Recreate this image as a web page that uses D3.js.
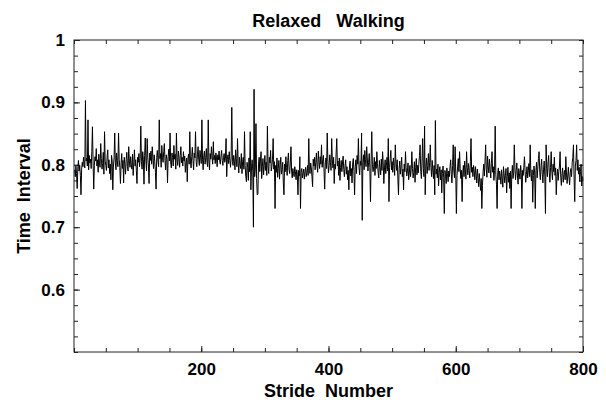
<!DOCTYPE html>
<html>
<head>
<meta charset="utf-8">
<script src="https://cdn.jsdelivr.net/npm/d3@7/dist/d3.min.js"></script>
<style>
  body { margin: 0; background: #fff; }
  svg text { font-family: 'Liberation Sans', Arial, sans-serif; font-weight: bold; fill: #000; }
  .axis path { display: none; }
  .axis line { stroke: #222; }
</style>
</head>
<body>
<svg id="chart" width="606" height="402"></svg>
<script>
// stride intervals (s), stride 1..800
var strideValues = [
  0.792, 0.781, 0.798, 0.786, 0.762, 0.795, 0.807, 0.790, 0.799, 0.783,
  0.752, 0.793, 0.804, 0.797, 0.812, 0.801, 0.795, 0.903, 0.806, 0.811,
  0.798, 0.872, 0.792, 0.815, 0.803, 0.809, 0.794, 0.821, 0.861, 0.805,
  0.761, 0.799, 0.813, 0.806, 0.826, 0.798, 0.808, 0.788, 0.817, 0.803,
  0.796, 0.834, 0.810, 0.793, 0.802, 0.820, 0.785, 0.853, 0.806, 0.799,
  0.791, 0.812, 0.824, 0.795, 0.808, 0.786, 0.801, 0.776, 0.815, 0.806,
  0.760, 0.798, 0.811, 0.851, 0.803, 0.792, 0.819, 0.807, 0.797, 0.851,
  0.809, 0.796, 0.770, 0.803, 0.818, 0.794, 0.807, 0.771, 0.812, 0.801,
  0.785, 0.808, 0.820, 0.797, 0.790, 0.829, 0.806, 0.796, 0.813, 0.800,
  0.793, 0.817, 0.783, 0.804, 0.824, 0.798, 0.808, 0.791, 0.770, 0.812,

  0.804, 0.818, 0.797, 0.810, 0.862, 0.805, 0.793, 0.821, 0.809, 0.769,
  0.815, 0.843, 0.806, 0.790, 0.842, 0.812, 0.798, 0.770, 0.819, 0.807,
  0.822, 0.801, 0.829, 0.811, 0.794, 0.816, 0.805, 0.788, 0.761, 0.812,
  0.823, 0.806, 0.797, 0.872, 0.810, 0.818, 0.796, 0.831, 0.812, 0.804,
  0.821, 0.834, 0.807, 0.792, 0.816, 0.809, 0.771, 0.813, 0.825, 0.806,
  0.851, 0.803, 0.795, 0.819, 0.812, 0.798, 0.831, 0.809, 0.817, 0.793,
  0.851, 0.808, 0.799, 0.822, 0.811, 0.796, 0.815, 0.829, 0.803, 0.812,
  0.798, 0.821, 0.806, 0.814, 0.788, 0.803, 0.811, 0.773, 0.809, 0.817,
  0.801, 0.853, 0.806, 0.795, 0.813, 0.828, 0.807, 0.792, 0.819, 0.811,
  0.853, 0.805, 0.797, 0.816, 0.829, 0.808, 0.799, 0.823, 0.812, 0.802,

  0.872, 0.809, 0.792, 0.815, 0.822, 0.801, 0.811, 0.826, 0.804, 0.797,
  0.872, 0.806, 0.792, 0.818, 0.809, 0.829, 0.813, 0.801, 0.837, 0.808,
  0.815, 0.802, 0.819, 0.811, 0.797, 0.816, 0.808, 0.822, 0.806, 0.801,
  0.814, 0.823, 0.807, 0.799, 0.812, 0.818, 0.804, 0.810, 0.842, 0.781,
  0.809, 0.816, 0.802, 0.821, 0.807, 0.796, 0.813, 0.892, 0.805, 0.799,
  0.815, 0.806, 0.792, 0.824, 0.810, 0.797, 0.842, 0.803, 0.787, 0.812,
  0.801, 0.794, 0.818, 0.786, 0.805, 0.812, 0.793, 0.853, 0.799, 0.781,
  0.773, 0.804, 0.796, 0.775, 0.811, 0.789, 0.853, 0.760, 0.797, 0.808,
  0.790, 0.700, 0.921, 0.781, 0.795, 0.866, 0.778, 0.752, 0.753, 0.801,
  0.812, 0.789, 0.806, 0.821, 0.778, 0.797, 0.810, 0.784, 0.799, 0.815,

  0.791, 0.804, 0.783, 0.862, 0.798, 0.786, 0.812, 0.803, 0.823, 0.790,
  0.797, 0.809, 0.842, 0.793, 0.805, 0.730, 0.799, 0.788, 0.811, 0.780,
  0.794, 0.807, 0.777, 0.798, 0.812, 0.785, 0.792, 0.804, 0.771, 0.752,
  0.801, 0.789, 0.813, 0.796, 0.783, 0.807, 0.819, 0.792, 0.786, 0.803,
  0.829, 0.790, 0.779, 0.794, 0.786, 0.781, 0.797, 0.789, 0.776, 0.792,
  0.785, 0.752, 0.791, 0.782, 0.813, 0.730, 0.788, 0.794, 0.779, 0.786,
  0.793, 0.777, 0.789, 0.796, 0.781, 0.788, 0.799, 0.783, 0.842, 0.791,
  0.786, 0.803, 0.795, 0.781, 0.765, 0.809, 0.798, 0.812, 0.792, 0.804,
  0.819, 0.797, 0.788, 0.822, 0.805, 0.794, 0.813, 0.801, 0.832, 0.796,
  0.808, 0.815, 0.790, 0.761, 0.803, 0.811, 0.794, 0.851, 0.806, 0.787,

  0.799, 0.816, 0.804, 0.791, 0.842, 0.808, 0.795, 0.812, 0.770, 0.801,
  0.793, 0.819, 0.842, 0.798, 0.806, 0.783, 0.811, 0.775, 0.796, 0.807,
  0.789, 0.803, 0.814, 0.792, 0.781, 0.799, 0.808, 0.785, 0.797, 0.776,
  0.791, 0.760, 0.798, 0.806, 0.782, 0.794, 0.771, 0.803, 0.810, 0.789,
  0.752, 0.797, 0.808, 0.786, 0.815, 0.801, 0.842, 0.795, 0.784, 0.806,
  0.799, 0.851, 0.711, 0.804, 0.816, 0.792, 0.823, 0.808, 0.797, 0.829,
  0.811, 0.790, 0.804, 0.818, 0.796, 0.741, 0.806, 0.853, 0.801, 0.789,
  0.797, 0.812, 0.783, 0.805, 0.794, 0.821, 0.802, 0.788, 0.779, 0.807,
  0.796, 0.784, 0.809, 0.791, 0.821, 0.803, 0.770, 0.795, 0.808, 0.786,
  0.799, 0.812, 0.790, 0.842, 0.741, 0.796, 0.810, 0.823, 0.792, 0.805,

  0.788, 0.811, 0.797, 0.783, 0.832, 0.802, 0.791, 0.808, 0.779, 0.752,
  0.794, 0.806, 0.785, 0.798, 0.812, 0.781, 0.793, 0.760, 0.801, 0.789,
  0.821, 0.796, 0.782, 0.790, 0.803, 0.776, 0.787, 0.799, 0.781, 0.793,
  0.821, 0.794, 0.779, 0.788, 0.805, 0.772, 0.796, 0.810, 0.784, 0.799,
  0.787, 0.801, 0.815, 0.832, 0.789, 0.778, 0.806, 0.842, 0.794, 0.781,
  0.862, 0.752, 0.797, 0.811, 0.786, 0.799, 0.818, 0.791, 0.804, 0.832,
  0.796, 0.781, 0.807, 0.790, 0.778, 0.799, 0.752, 0.871, 0.785, 0.793,
  0.779, 0.801, 0.766, 0.788, 0.797, 0.776, 0.792, 0.755, 0.786, 0.798,
  0.780, 0.722, 0.791, 0.784, 0.770, 0.795, 0.786, 0.773, 0.790, 0.781,
  0.797, 0.808, 0.785, 0.771, 0.799, 0.832, 0.790, 0.779, 0.829, 0.787,

  0.722, 0.783, 0.798, 0.810, 0.789, 0.821, 0.794, 0.778, 0.791, 0.741,
  0.787, 0.799, 0.781, 0.806, 0.793, 0.777, 0.821, 0.796, 0.784, 0.802,
  0.791, 0.779, 0.805, 0.842, 0.788, 0.796, 0.781, 0.799, 0.790, 0.776,
  0.797, 0.785, 0.771, 0.793, 0.780, 0.765, 0.786, 0.772, 0.759, 0.778,
  0.730, 0.767, 0.789, 0.801, 0.782, 0.806, 0.832, 0.793, 0.780, 0.814,
  0.798, 0.787, 0.809, 0.793, 0.779, 0.802, 0.821, 0.788, 0.797, 0.775,
  0.791, 0.862, 0.784, 0.769, 0.730, 0.788, 0.795, 0.776, 0.790, 0.781,
  0.769, 0.792, 0.780, 0.764, 0.797, 0.786, 0.771, 0.783, 0.794, 0.755,
  0.781, 0.796, 0.772, 0.787, 0.762, 0.790, 0.730, 0.784, 0.799, 0.778,
  0.787, 0.832, 0.795, 0.776, 0.791, 0.803, 0.782, 0.769, 0.794, 0.786,

  0.777, 0.799, 0.788, 0.730, 0.791, 0.783, 0.796, 0.813, 0.789, 0.772,
  0.784, 0.797, 0.779, 0.790, 0.802, 0.781, 0.832, 0.786, 0.774, 0.792,
  0.740, 0.783, 0.798, 0.787, 0.730, 0.791, 0.804, 0.779, 0.795, 0.810,
  0.821, 0.788, 0.776, 0.797, 0.809, 0.785, 0.771, 0.793, 0.806, 0.782,
  0.722, 0.832, 0.794, 0.781, 0.803, 0.815, 0.788, 0.772, 0.796, 0.821,
  0.790, 0.776, 0.801, 0.789, 0.812, 0.783, 0.795, 0.752, 0.781, 0.793,
  0.775, 0.789, 0.798, 0.821, 0.780, 0.767, 0.786, 0.795, 0.772, 0.784,
  0.791, 0.776, 0.813, 0.787, 0.770, 0.782, 0.796, 0.779, 0.768, 0.788,
  0.794, 0.781, 0.803, 0.812, 0.832, 0.779, 0.741, 0.798, 0.807, 0.832,
  0.791, 0.808, 0.785, 0.796, 0.773, 0.789, 0.801, 0.766, 0.781, 0.775
];
var xTickLabels = [200, 400, 600, 800];
var yTickLabels = [0.6, 0.7, 0.8, 0.9, 1];
var xMinorTicks = d3.range(0, 801, 50);
var yMinorTicks = d3.range(0, 21).map(function(i) { return 0.5 + i * 0.025; });

var margin = {top: 40, right: 23, bottom: 50, left: 74};
var width = 606, height = 402;
var chartWidth = width - margin.left - margin.right;
var chartHeight = height - margin.top - margin.bottom;

var svg = d3.select('#chart');
var chartGroup = svg.append('g')
  .attr('transform', 'translate(' + margin.left + ',' + margin.top + ')');

var xScale = d3.scaleLinear().domain([0, 800]).range([0, chartWidth]);
var yScale = d3.scaleLinear().domain([0.5, 1]).range([chartHeight, 0]);

// inward minor ticks on all four sides
chartGroup.append('g').attr('class', 'axis')
  .attr('transform', 'translate(0,' + chartHeight + ')')
  .call(d3.axisBottom(xScale).tickValues(xMinorTicks).tickSize(-4).tickFormat(''));
chartGroup.append('g').attr('class', 'axis')
  .call(d3.axisTop(xScale).tickValues(xMinorTicks).tickSize(-4).tickFormat(''));
chartGroup.append('g').attr('class', 'axis')
  .call(d3.axisLeft(yScale).tickValues(yMinorTicks).tickSize(-4).tickFormat(''));
chartGroup.append('g').attr('class', 'axis')
  .attr('transform', 'translate(' + chartWidth + ',0)')
  .call(d3.axisRight(yScale).tickValues(yMinorTicks).tickSize(-4).tickFormat(''));

// labelled ticks, a bit longer
var xAxisGroup = chartGroup.append('g').attr('class', 'axis')
  .attr('transform', 'translate(0,' + chartHeight + ')')
  .call(d3.axisBottom(xScale).tickValues(xTickLabels).tickSize(-6).tickPadding(11));
var yAxisGroup = chartGroup.append('g').attr('class', 'axis')
  .call(d3.axisLeft(yScale).tickValues(yTickLabels).tickSize(-6).tickPadding(9)
    .tickFormat(function(d) { return d === 1 ? '1' : d3.format('.1f')(d); }));
xAxisGroup.selectAll('text').style('font-size', '17px');
yAxisGroup.selectAll('text').style('font-size', '17px');

var line = d3.line()
  .x(function(d, i) { return xScale(i + 1); })
  .y(function(d) { return yScale(d); });

chartGroup.append('path')
  .datum(strideValues)
  .attr('fill', 'none')
  .attr('stroke', '#000')
  .attr('stroke-width', 1)
  .attr('d', line);

chartGroup.append('rect')
  .attr('x', 0).attr('y', 0)
  .attr('width', chartWidth).attr('height', chartHeight)
  .attr('fill', 'none')
  .attr('stroke', '#222')
  .attr('stroke-width', 1);

svg.append('text')
  .attr('x', margin.left + chartWidth / 2)
  .attr('y', 27)
  .attr('text-anchor', 'middle')
  .style('font-size', '18px')
  .style('white-space', 'pre')
  .text('Relaxed   Walking');

svg.append('text')
  .attr('x', margin.left + chartWidth / 2)
  .attr('y', 397)
  .attr('text-anchor', 'middle')
  .style('font-size', '18px')
  .style('white-space', 'pre')
  .text('Stride  Number');

svg.append('text')
  .attr('transform', 'translate(30,' + (margin.top + chartHeight / 2) + ') rotate(-90)')
  .attr('text-anchor', 'middle')
  .style('font-size', '18px')
  .style('white-space', 'pre')
  .text('Time  Interval');
</script>
</body>
</html>
